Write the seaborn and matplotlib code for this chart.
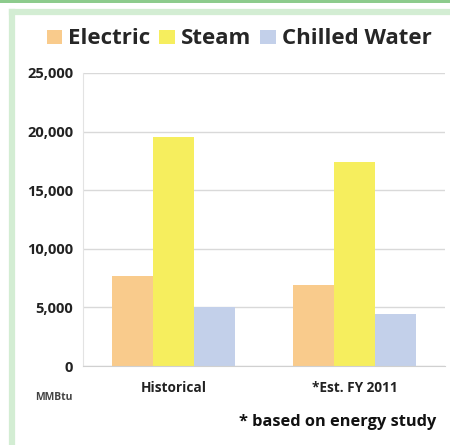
import matplotlib
matplotlib.use("Agg")
import matplotlib.pyplot as plt
import matplotlib.patches as mpatches
import matplotlib.lines as mlines
import pandas as pd
import seaborn as sns

categories = ["Historical", "*Est. FY 2011"]
sources = ["Electric", "Steam", "Chilled Water"]
electric = [7700, 6900]
steam = [19500, 17400]
chilled_water = [5000, 4400]
yticks = [0, 5000, 10000, 15000, 20000, 25000]
ytick_labels = ["0", "5,000", "10,000", "15,000", "20,000", "25,000"]

colors = ["#F9CB8C", "#F6EE5E", "#C3D0EA"]

rows = []
for cat, e, s, c in zip(categories, electric, steam, chilled_water):
    rows.append({"category": cat, "source": "Electric", "value": e})
    rows.append({"category": cat, "source": "Steam", "value": s})
    rows.append({"category": cat, "source": "Chilled Water", "value": c})
df = pd.DataFrame(rows)

sns.set_style("white")
plt.rcParams["font.family"] = ["Open Sans", "DejaVu Sans"]

W, H = 450, 445
fig = plt.figure(figsize=(W / 100, H / 100), dpi=100)
fig.patch.set_facecolor("white")

# frame decorations
fig.patches.append(mpatches.Rectangle((0, 1 - 2.5 / H), 1, 2.5 / H, transform=fig.transFigure,
                                      facecolor="#8DCB8D", edgecolor="none"))
frame_x = 11.5 / W
frame_y = 1 - 11.5 / H
fig.lines.append(mlines.Line2D([frame_x, frame_x], [0, frame_y], transform=fig.transFigure,
                               color="#D3EDD3", linewidth=4.5, solid_capstyle="projecting"))
fig.lines.append(mlines.Line2D([frame_x, 1], [frame_y, frame_y], transform=fig.transFigure,
                               color="#D3EDD3", linewidth=4.5, solid_capstyle="projecting"))

ax = fig.add_axes([83 / W, 1 - 366 / H, (445 - 83) / W, (366 - 73) / H])
sns.barplot(data=df, x="category", y="value", hue="source", hue_order=sources,
            palette=colors, width=0.68, gap=0, saturation=1, linewidth=0,
            ax=ax, legend=False)

ax.set_ylim(0, 25000)
ax.set_xlim(-0.5, 1.5)
ax.set_yticks(yticks)
ax.set_yticklabels(ytick_labels, fontweight="bold", fontsize=10.5, color="#222222")
ax.tick_params(axis="y", length=0, pad=7)
ax.tick_params(axis="x", length=0, pad=11)
for lbl in ax.get_xticklabels():
    lbl.set_fontweight("bold")
    lbl.set_fontsize(9.8)
    lbl.set_color("#222222")
ax.set_xlabel("")
ax.set_ylabel("")
ax.grid(axis="y", color="#D9D9D9", linewidth=1)
ax.set_axisbelow(True)
for side in ["top", "right"]:
    ax.spines[side].set_visible(False)
ax.spines["left"].set_color("#E3E3E3")
ax.spines["bottom"].set_color("#D0D0D0")

handles = [mpatches.Patch(facecolor=c, edgecolor="none", label=s) for c, s in zip(colors, sources)]
fig.legend(handles=handles, loc="center", bbox_to_anchor=(239 / W, 1 - 39 / H), ncol=3,
           frameon=False, prop={"weight": "bold", "size": 16}, handlelength=0.7,
           handleheight=0.6, handletextpad=0.26, columnspacing=0.42)

fig.text(54 / W, 1 - 398 / H, "MMBtu", fontsize=7.5, fontweight="bold", color="#444444",
         ha="center", va="center")
fig.text(436 / W, 1 - 422 / H, "* based on energy study", fontsize=11.8, fontweight="bold",
         color="#111111", ha="right", va="center")

fig.savefig("out.png", dpi=100)
